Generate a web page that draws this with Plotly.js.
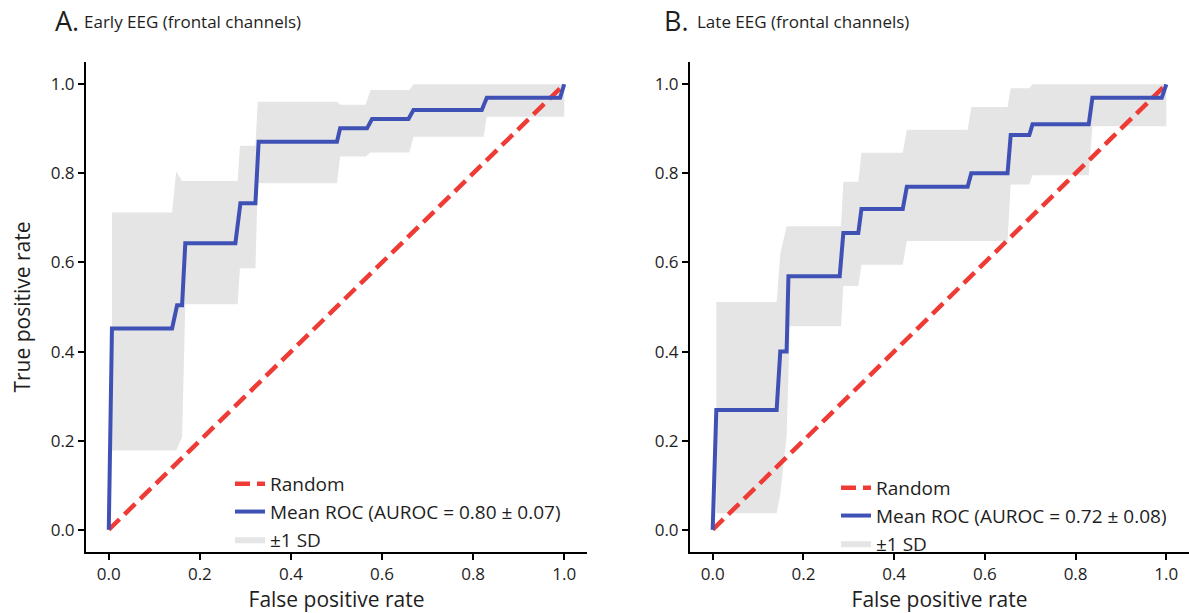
<!DOCTYPE html>
<html>
<head>
<meta charset="utf-8">
<script src="https://cdn.plot.ly/plotly-3.0.1.min.js"></script>
<style>html,body{margin:0;padding:0;background:#fff;}#chart{width:1189px;height:613px;}</style>
</head>
<body>
<div id="chart"></div>
<script>
// ---- Data ----
const randomX = [0, 1];
const randomY = [0, 1];

// Panel A: Early EEG (frontal channels)
const fprA = [0, 0.007, 0.139, 0.150, 0.161, 0.168, 0.278, 0.289, 0.322, 0.329, 0.501, 0.508, 0.567, 0.578, 0.658, 0.669, 0.819, 0.830, 0.991, 1.0];
const tprA = [0, 0.452, 0.452, 0.504, 0.504, 0.643, 0.643, 0.733, 0.733, 0.871, 0.871, 0.901, 0.901, 0.922, 0.922, 0.942, 0.942, 0.970, 0.970, 1.0];
const bandXA  = [0.007, 0.139, 0.148, 0.161, 0.168, 0.283, 0.288, 0.322, 0.327, 0.501, 0.508, 0.564, 0.575, 0.660, 0.669, 0.823, 0.830, 1.0];
const bandUpA = [0.712, 0.712, 0.804, 0.783, 0.783, 0.783, 0.862, 0.862, 0.961, 0.961, 0.954, 0.954, 0.987, 0.987, 1.0, 1.0, 1.0, 1.0];
const bandLoA = [0.178, 0.178, 0.178, 0.208, 0.506, 0.506, 0.587, 0.587, 0.778, 0.778, 0.838, 0.838, 0.847, 0.847, 0.882, 0.882, 0.927, 0.927];
const labelA = "Mean ROC (AUROC = 0.80 ± 0.07)";

// Panel B: Late EEG (frontal channels)
const fprB = [0, 0.008, 0.141, 0.149, 0.163, 0.167, 0.280, 0.288, 0.321, 0.328, 0.419, 0.428, 0.562, 0.570, 0.650, 0.657, 0.698, 0.705, 0.829, 0.837, 0.990, 1.0];
const tprB = [0, 0.269, 0.269, 0.400, 0.400, 0.569, 0.569, 0.666, 0.666, 0.720, 0.720, 0.770, 0.770, 0.800, 0.800, 0.886, 0.886, 0.910, 0.910, 0.970, 0.970, 1.0];
const bandXB  = [0.008, 0.141, 0.149, 0.163, 0.170, 0.283, 0.288, 0.321, 0.328, 0.419, 0.428, 0.562, 0.570, 0.650, 0.657, 0.698, 0.705, 0.829, 0.837, 1.0];
const bandUpB = [0.511, 0.511, 0.619, 0.681, 0.681, 0.681, 0.781, 0.781, 0.846, 0.846, 0.898, 0.898, 0.949, 0.949, 0.991, 0.991, 1.0, 1.0, 1.0, 1.0];
const bandLoB = [0.037, 0.037, 0.080, 0.210, 0.457, 0.457, 0.547, 0.547, 0.595, 0.595, 0.648, 0.648, 0.648, 0.648, 0.775, 0.775, 0.796, 0.796, 0.906, 0.906];
const labelB = "Mean ROC (AUROC = 0.72 ± 0.08)";

const tickVals = [0, 0.2, 0.4, 0.6, 0.8, 1.0];
const tickText = ["0.0", "0.2", "0.4", "0.6", "0.8", "1.0"];

// ---- Styles ----
const RED = "#ef3b36", BLUE = "#4051b5", GRAY = "#e5e5e5", TXT = "#1e1e1e";
const W = 1189, H = 613, ML = 60, MR = 0, MT = 62, MB = 61;
const PW = W - ML - MR, PH = H - MT - MB;
const px2x = p => (p - ML) / PW;
const py2y = p => (H - MB - p) / PH;

function panel(fpr, tpr, bx, bup, blo, label, xa, ya, leg) {
  return [
    {x: bx, y: blo, xaxis: xa, yaxis: ya, mode: "lines", line: {width: 0, color: GRAY},
     showlegend: false, hoverinfo: "skip", legend: leg},
    {x: bx, y: bup, xaxis: xa, yaxis: ya, mode: "lines", fill: "tonexty", fillcolor: GRAY,
     line: {width: 0, color: GRAY}, name: "±1 SD", legend: leg, legendrank: 3},
    {x: randomX, y: randomY, xaxis: xa, yaxis: ya, mode: "lines",
     line: {color: RED, width: 4.5, dash: "15px,7px"}, name: "Random", legend: leg, legendrank: 1},
    {x: fpr, y: tpr, xaxis: xa, yaxis: ya, mode: "lines",
     line: {color: BLUE, width: 4}, name: label, legend: leg, legendrank: 2}
  ];
}

const data = [].concat(
  panel(fprA, tprA, bandXA, bandUpA, bandLoA, labelA, "x", "y", "legend"),
  panel(fprB, tprB, bandXB, bandUpB, bandLoB, labelB, "x2", "y2", "legend2")
);

const axisCommon = {
  range: [-0.05, 1.05], showgrid: false, zeroline: false, automargin: false,
  showline: true, linecolor: "#000", linewidth: 2,
  ticks: "outside", ticklen: 6, tickwidth: 2, tickcolor: "#000",
  tickvals: tickVals, ticktext: tickText, tickangle: 0,
  tickfont: {family: "Open Sans", size: 17, color: TXT}
};

const layout = {
  width: W, height: H,
  margin: {l: ML, r: MR, t: MT, b: MB, autoexpand: false},
  paper_bgcolor: "#fff", plot_bgcolor: "#fff",
  font: {family: "Open Sans", color: TXT},
  xaxis: Object.assign({}, axisCommon, {domain: [px2x(86), px2x(587)], anchor: "y",
    title: {text: "False positive rate", font: {size: 21, color: TXT}, standoff: 12}}),
  yaxis: Object.assign({}, axisCommon, {domain: [0, 1], anchor: "x",
    title: {text: "True positive rate", font: {size: 21, color: TXT}, standoff: 14}}),
  xaxis2: Object.assign({}, axisCommon, {domain: [px2x(690), 1], anchor: "y2",
    title: {text: "False positive rate", font: {size: 21, color: TXT}, standoff: 12}}),
  yaxis2: Object.assign({}, axisCommon, {domain: [0, 1], anchor: "x2"}),
  showlegend: true,
  legend: {x: px2x(230), y: py2y(465),
    xanchor: "left", yanchor: "top", bgcolor: "rgba(0,0,0,0)", borderwidth: 0,
    font: {size: 19, color: TXT}, tracegroupgap: 0, traceorder: "normal"},
  legend2: {x: px2x(836), y: py2y(469),
    xanchor: "left", yanchor: "top", bgcolor: "rgba(0,0,0,0)", borderwidth: 0,
    font: {size: 19, color: TXT}, tracegroupgap: 0, traceorder: "normal"},
  annotations: [
    {xref: "paper", yref: "paper", x: px2x(53), y: py2y(20), xanchor: "left", yanchor: "middle",
     text: "A.", showarrow: false, font: {size: 27, color: TXT}},
    {xref: "paper", yref: "paper", x: px2x(82), y: py2y(22), xanchor: "left", yanchor: "middle",
     text: "Early EEG (frontal channels)", showarrow: false, font: {size: 17, color: TXT}},
    {xref: "paper", yref: "paper", x: px2x(662), y: py2y(20), xanchor: "left", yanchor: "middle",
     text: "B.", showarrow: false, font: {size: 27, color: TXT}},
    {xref: "paper", yref: "paper", x: px2x(695), y: py2y(22), xanchor: "left", yanchor: "middle",
     text: "Late EEG (frontal channels)", showarrow: false, font: {size: 17, color: TXT}}
  ]
};

Plotly.newPlot("chart", data, layout, {displayModeBar: false, staticPlot: true});
</script>
</body>
</html>
